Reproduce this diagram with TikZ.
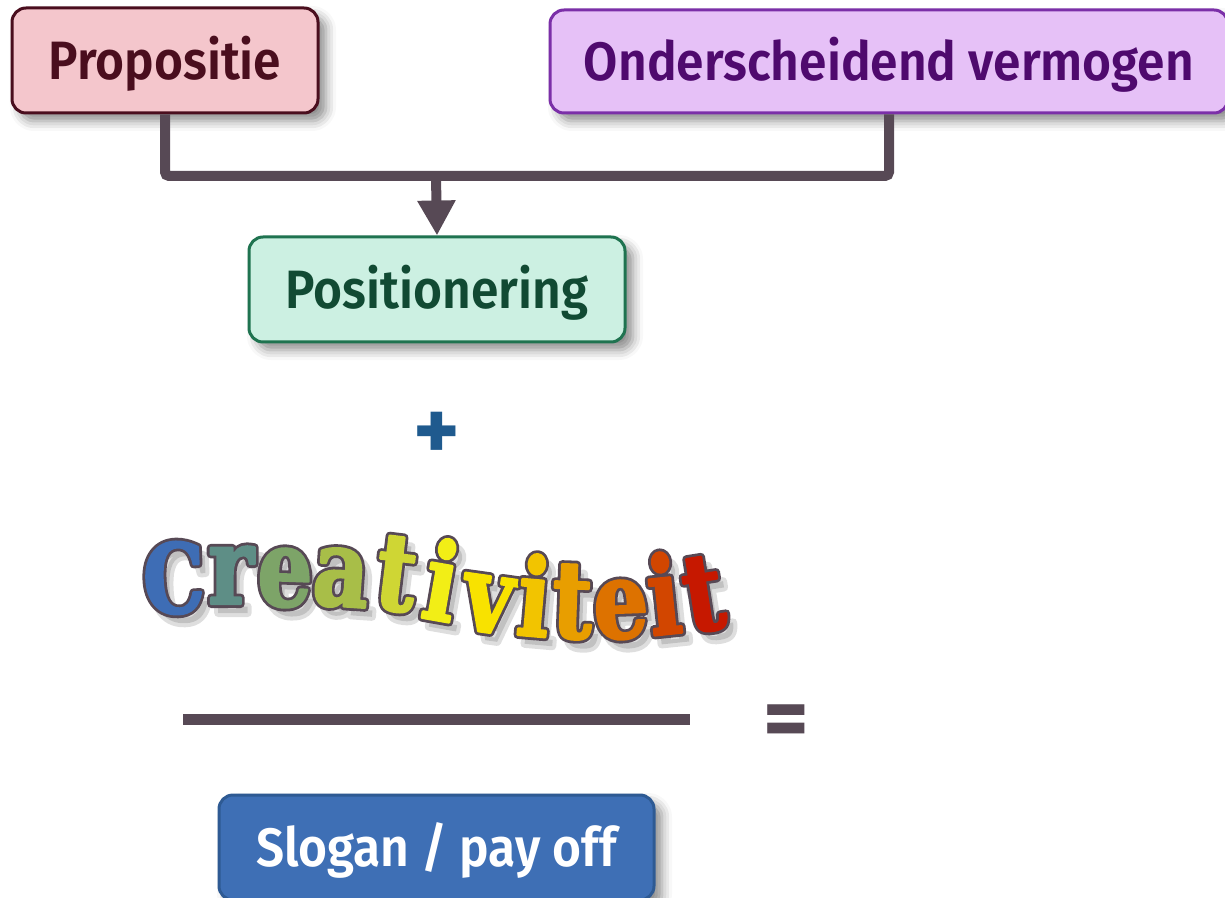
\documentclass[tikz,border=0pt]{standalone}
\usepackage{fontspec}
\newfontfamily\boxfont{Fira Sans SemiBold}[FakeStretch=0.92]
\newfontfamily\signfont{Fira Sans}
\newfontfamily\wordfont{DejaVu Serif}[FakeStretch=0.8]
\usetikzlibrary{arrows.meta,shadows.blur}
\definecolor{linkgray}{HTML}{574955}
\definecolor{propfill}{HTML}{F4C6CC}
\definecolor{propline}{HTML}{4A0E1E}
\definecolor{ondfill}{HTML}{E6C1F7}
\definecolor{ondline}{HTML}{7B2FA8}
\definecolor{ondtext}{HTML}{4F0A6E}
\definecolor{posfill}{HTML}{CCF0E2}
\definecolor{posline}{HTML}{1F7350}
\definecolor{postext}{HTML}{114A33}
\definecolor{slogfill}{HTML}{3E6FB5}
\definecolor{slogline}{HTML}{2E5A93}
\definecolor{plusblue}{HTML}{1F5A8E}
\definecolor{cre1}{HTML}{3E6DB5}
\definecolor{cre2}{HTML}{5E8E86}
\definecolor{cre3}{HTML}{7DA468}
\definecolor{cre4}{HTML}{A8BE48}
\definecolor{cre5}{HTML}{CFD634}
\definecolor{cre6}{HTML}{F2EE16}
\definecolor{cre7}{HTML}{F8E200}
\definecolor{cre8}{HTML}{F2C400}
\definecolor{cre9}{HTML}{E89E00}
\definecolor{cre10}{HTML}{DD7200}
\definecolor{cre11}{HTML}{D24600}
\definecolor{cre12}{HTML}{C61800}
\newcommand\wordline[1]{\special{pdf:literal direct 2 Tr 4 w 1 j}#1\special{pdf:literal direct 0 Tr}}
\newcommand\wordfill[1]{\special{pdf:literal direct 2 Tr 1.2 w 1 j}#1\special{pdf:literal direct 0 Tr}}
\tikzset{box/.style={draw,rounded corners=7pt,line width=1.5pt,inner sep=0pt,
    font=\boxfont\fontsize{27}{30}\selectfont,text height=20.5pt,text depth=1.5pt,
    blur shadow={shadow xshift=4pt,shadow yshift=-4pt,shadow blur radius=5pt,shadow opacity=45}},
  conn/.style={draw=linkgray,line width=5pt,rounded corners=2pt},
  bar/.style={draw=linkgray,line width=5.5pt},
  sign/.style={inner sep=0pt,font=\signfont\bfseries\fontsize{44}{44}\selectfont},
  letter/.style={anchor=base,inner sep=0pt,font=\wordfont\bfseries}}

\begin{document}
\begin{tikzpicture}[x=0.5pt,y=-0.5pt]
\useasboundingbox (0,0) rectangle (1225,898);
\node[box,fill=propfill,draw=propline,text=propline,minimum width=153pt,minimum height=52.5pt]
  (prop) at (165,60.5) {Propositie};
\node[box,fill=ondfill,draw=ondline,text=ondtext,minimum width=339pt,minimum height=51.5pt]
  (ond) at (889,61.5) {Onderscheidend vermogen};
\node[box,fill=posfill,draw=posline,text=postext,minimum width=188pt,minimum height=52.5pt]
  (pos) at (437,289.5) {Positionering};
\coordinate (join) at (436,176);
\draw[conn] (prop.south) |- (join) -| (ond.south);
\draw[conn,-{Triangle[length=17.5pt,width=18pt]}] (join) -- (pos.north);
\node[sign,text=plusblue] (plus) at (437,436) {+};
\foreach \l/\x/\y/\a/\s [count=\i] in {C/175/613/2/48,r/231/604/0/54,e/284/606/-2/54,
    a/339/606/-4/54,t/392/610/-7/54,i/435/620/-10/54,v/484/632/-8/54,i/531/636/-5/54,
    t/571/638/-2/54,e/622/638/2/54,i/668/634/6/54,t/709/630/9/54}{
  \node[letter,text=black,opacity=.13,rotate=\a] at (\x+7,\y+9) {\fontsize{\s}{\s}\selectfont\wordline{\l}};
  \node[letter,text=linkgray,rotate=\a] at (\x,\y) {\fontsize{\s}{\s}\selectfont\wordline{\l}};
  \node[letter,text=cre\i,rotate=\a] (cre\i) at (\x,\y) {\fontsize{\s}{\s}\selectfont\wordfill{\l}};
}
\draw[bar] (183,719) -- (690,719);
\node[sign,text=linkgray] (equal) at (786,727) {=};
\node[box,fill=slogfill,draw=slogline,text=white,minimum width=217.5pt,minimum height=52.5pt]
  (slogan) at (436.5,847.5) {Slogan / pay off};
\end{tikzpicture}
\end{document}
